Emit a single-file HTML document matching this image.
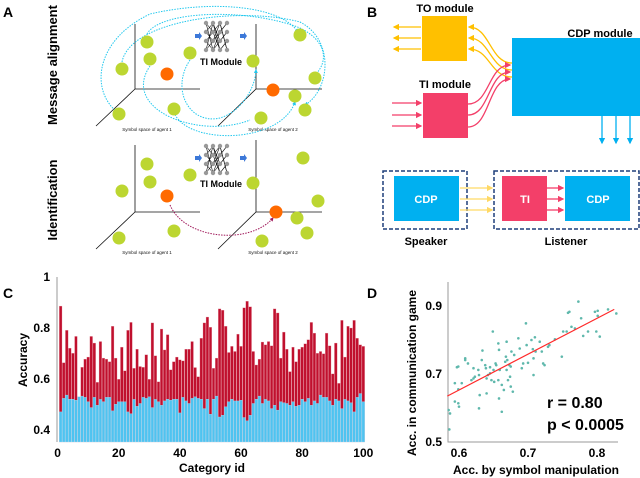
<!DOCTYPE html>
<html><head><meta charset="utf-8"><style>
body{margin:0;background:#fff;width:640px;height:478px;overflow:hidden}
svg{display:block;font-family:"Liberation Sans",Arial,sans-serif;font-weight:bold}
</style></head><body>
<svg id="fig" width="640" height="478" viewBox="0 0 640 478">
<defs>
<marker id="ay" markerWidth="5" markerHeight="5" refX="4" refY="2.5" orient="auto"><path d="M0,0L5,2.5L0,5z" fill="#ffc000"/></marker>
<marker id="ap" markerWidth="5" markerHeight="5" refX="4" refY="2.5" orient="auto"><path d="M0,0L5,2.5L0,5z" fill="#f33f69"/></marker>
<marker id="ab" markerWidth="5" markerHeight="5" refX="4" refY="2.5" orient="auto"><path d="M0,0L5,2.5L0,5z" fill="#00b0f0"/></marker>
<marker id="al" markerWidth="5" markerHeight="5" refX="4" refY="2.5" orient="auto"><path d="M0,0L5,2.5L0,5z" fill="#ffd966"/></marker>
<marker id="ac" markerWidth="4" markerHeight="4" refX="3" refY="2" orient="auto"><path d="M0,0L4,2L0,4z" fill="#22c8ee"/></marker>
<marker id="am" markerWidth="4" markerHeight="4" refX="3" refY="2" orient="auto"><path d="M0,0L4,2L0,4z" fill="#a0185a"/></marker>
</defs>

<!-- Panel A -->
<g>
<text x="3" y="17" font-size="14">A</text>
<text transform="translate(57,65) rotate(-90)" text-anchor="middle" font-size="13">Message alignment</text>
<text transform="translate(57,200) rotate(-90)" text-anchor="middle" font-size="13">Identification</text>
<g stroke="#111" stroke-width="0.8" fill="none">
<path d="M135,24V89H200M135,89L96,126"/>
<path d="M256,24V89H322M256,89L218,126"/>
<path d="M135,145V212H200M135,212L96,249"/>
<path d="M256,140V212H322M256,212L218,249"/>
</g>
<g font-size="4.5" font-weight="normal" text-anchor="middle" fill="#111">
<text x="147" y="131">Symbol space of agent 1</text>
<text x="273" y="131">Symbol space of agent 2</text>
<text x="147" y="254">Symbol space of agent 1</text>
<text x="273" y="254">Symbol space of agent 2</text>
</g>
<g fill="none" stroke="#22c8ee" stroke-width="1" stroke-dasharray="1.5,1.2">
<path d="M117,112C90,90 95,40 150,14C210,0 280,5 298,32" marker-end="url(#ac)"/>
<path d="M147,34C160,10 250,8 300,28C325,40 330,60 315,75" marker-end="url(#ac)"/>
<path d="M122,62C130,20 240,6 300,22C335,40 330,90 305,105" marker-end="url(#ac)"/>
<path d="M190,60C170,90 190,125 220,118C240,112 255,90 256,70" marker-end="url(#ac)"/>
<path d="M174,112C185,145 280,145 295,102" marker-end="url(#ac)"/>
<path d="M150,66C120,110 200,140 250,120"/>
</g>
<path d="M170,205C185,240 250,245 273,218" fill="none" stroke="#a0185a" stroke-width="1" stroke-dasharray="1.5,1.2" marker-end="url(#am)"/>
<g fill="#bcd631">
<circle cx="147" cy="42" r="6.5"/><circle cx="150" cy="59" r="6.5"/><circle cx="122" cy="69" r="6.5"/><circle cx="190" cy="53" r="6.5"/><circle cx="119" cy="114" r="6.5"/><circle cx="174" cy="109" r="6.5"/>
<circle cx="253" cy="61" r="6.5"/><circle cx="300" cy="35" r="6.5"/><circle cx="315" cy="78" r="6.5"/><circle cx="295" cy="96" r="6.5"/><circle cx="305" cy="110" r="6.5"/><circle cx="261" cy="118" r="6.5"/>
<circle cx="147" cy="164" r="6.5"/><circle cx="150" cy="182" r="6.5"/><circle cx="122" cy="191" r="6.5"/><circle cx="190" cy="175" r="6.5"/><circle cx="119" cy="238" r="6.5"/><circle cx="174" cy="231" r="6.5"/>
<circle cx="253" cy="183" r="6.5"/><circle cx="303" cy="158" r="6.5"/><circle cx="318" cy="201" r="6.5"/><circle cx="297" cy="218" r="6.5"/><circle cx="307" cy="233" r="6.5"/><circle cx="262" cy="241" r="6.5"/>
</g>
<g fill="#ff6a00">
<circle cx="167" cy="74" r="6.5"/><circle cx="273" cy="90" r="6.5"/><circle cx="167" cy="196" r="6.5"/><circle cx="276" cy="212" r="6.5"/>
</g>
<g id="nets"></g>
<text x="221" y="65" text-anchor="middle" font-size="9">TI Module</text>
<text x="221" y="187" text-anchor="middle" font-size="9">TI Module</text>
</g>

<!-- Panel B -->
<g>
<text x="367" y="17" font-size="14">B</text>
<text x="445" y="12" text-anchor="middle" font-size="11">TO module</text>
<rect x="422" y="16" width="45" height="45" fill="#ffc000"/>
<text x="445" y="88" text-anchor="middle" font-size="11">TI module</text>
<rect x="423" y="93" width="45" height="45" fill="#f33f69"/>
<rect x="512" y="38" width="128" height="78" fill="#00b0f0"/>
<text x="600" y="37" text-anchor="middle" font-size="11">CDP module</text>
<g stroke="#ffc000" stroke-width="1.3" fill="none">
<path d="M421,27H394" marker-end="url(#ay)"/><path d="M421,38H394" marker-end="url(#ay)"/><path d="M421,49H394" marker-end="url(#ay)"/>
<path d="M512,63C490,63 490,27 469,27" marker-end="url(#ay)"/><path d="M512,70C490,70 490,38 469,38" marker-end="url(#ay)"/><path d="M512,77C490,77 490,49 469,49" marker-end="url(#ay)"/>
</g>
<g stroke="#f33f69" stroke-width="1.3" fill="none">
<path d="M392,103H421" marker-end="url(#ap)"/><path d="M392,115H421" marker-end="url(#ap)"/><path d="M392,126H421" marker-end="url(#ap)"/>
<path d="M468,104C490,104 488,65 510,65" marker-end="url(#ap)"/><path d="M468,115C490,115 488,72 510,72" marker-end="url(#ap)"/><path d="M468,127C490,127 488,79 510,79" marker-end="url(#ap)"/>
</g>
<g stroke="#00b0f0" stroke-width="1.3">
<path d="M602,116V143" marker-end="url(#ab)"/><path d="M616,116V143" marker-end="url(#ab)"/><path d="M630,116V143" marker-end="url(#ab)"/>
</g>
<rect x="383" y="171" width="84" height="58" fill="none" stroke="#1f3f7a" stroke-width="1.5" stroke-dasharray="4,2"/>
<rect x="494" y="171" width="145" height="58" fill="none" stroke="#1f3f7a" stroke-width="1.5" stroke-dasharray="4,2"/>
<rect x="394" y="176" width="65" height="45" fill="#00b0f0"/>
<rect x="502" y="176" width="45" height="45" fill="#f33f69"/>
<rect x="565" y="176" width="65" height="45" fill="#00b0f0"/>
<g fill="#fff" font-size="11" text-anchor="middle">
<text x="426" y="203">CDP</text><text x="525" y="203">TI</text><text x="598" y="203">CDP</text>
</g>
<g stroke="#ffd966" stroke-width="1.3"><path d="M460,188H492" marker-end="url(#al)"/><path d="M460,199H492" marker-end="url(#al)"/><path d="M460,210H492" marker-end="url(#al)"/></g>
<g stroke="#f33f69" stroke-width="1.3"><path d="M547,188H563" marker-end="url(#ap)"/><path d="M547,199H563" marker-end="url(#ap)"/><path d="M547,210H563" marker-end="url(#ap)"/></g>
<text x="426" y="245" text-anchor="middle" font-size="11">Speaker</text>
<text x="566" y="245" text-anchor="middle" font-size="11">Listener</text>
</g>

<!-- Panel C -->
<g id="panelC">
<text x="3" y="298" font-size="14">C</text>
<text transform="translate(27,360) rotate(-90)" text-anchor="middle" font-size="12">Accuracy</text>
<text x="212" y="472" text-anchor="middle" font-size="12">Category id</text>
</g>

<!-- Panel D -->
<g id="panelD">
<text x="367" y="298" font-size="14">D</text>
<text transform="translate(416,373) rotate(-90)" text-anchor="middle" font-size="12">Acc. in communication game</text>
<text x="536" y="474" text-anchor="middle" font-size="12">Acc. by symbol manipulation</text>
<text x="547" y="408" font-size="16">r = 0.80</text>
<text x="547" y="430" font-size="16">p &lt; 0.0005</text>
</g>
</svg>
<script>
var redValues=[0.886,0.664,0.791,0.721,0.701,0.767,0.53,0.646,0.678,0.686,0.767,0.741,0.587,0.747,0.682,0.678,0.668,0.807,0.682,0.599,0.725,0.632,0.791,0.822,0.642,0.717,0.649,0.646,0.695,0.599,0.82,0.691,0.589,0.796,0.714,0.774,0.636,0.668,0.686,0.675,0.671,0.717,0.717,0.747,0.645,0.609,0.76,0.82,0.843,0.803,0.642,0.682,0.875,0.87,0.807,0.704,0.728,0.708,0.776,0.728,0.879,0.905,0.883,0.708,0.655,0.678,0.745,0.734,0.747,0.73,0.875,0.859,0.682,0.784,0.717,0.629,0.725,0.668,0.717,0.725,0.738,0.754,0.822,0.78,0.701,0.708,0.699,0.78,0.73,0.62,0.741,0.583,0.83,0.686,0.807,0.8,0.83,0.76,0.734,0.728];
var blueValues=[0.471,0.524,0.537,0.521,0.521,0.517,0.530,0.533,0.528,0.511,0.488,0.528,0.497,0.520,0.511,0.528,0.528,0.475,0.501,0.511,0.511,0.511,0.471,0.464,0.520,0.493,0.504,0.528,0.524,0.530,0.488,0.520,0.511,0.497,0.514,0.521,0.517,0.521,0.521,0.467,0.528,0.514,0.504,0.524,0.530,0.524,0.521,0.484,0.521,0.462,0.521,0.533,0.451,0.458,0.491,0.511,0.521,0.514,0.514,0.517,0.449,0.436,0.458,0.504,0.521,0.533,0.504,0.520,0.514,0.484,0.497,0.478,0.511,0.507,0.504,0.497,0.511,0.493,0.497,0.521,0.511,0.524,0.497,0.514,0.504,0.537,0.528,0.528,0.514,0.497,0.521,0.514,0.484,0.520,0.514,0.507,0.471,0.528,0.543,0.511];
var cYTicks=[0.4,0.6,0.8,1];
var cXTicks=[0,20,40,60,80,100];
var dX=[0.585,0.587,0.586,0.594,0.594,0.597,0.599,0.599,0.600,0.599,0.609,0.609,0.604,0.613,0.618,0.621,0.623,0.621,0.628,0.629,0.633,0.634,0.630,0.629,0.638,0.639,0.640,0.640,0.642,0.645,0.645,0.647,0.650,0.651,0.653,0.654,0.649,0.657,0.658,0.658,0.657,0.662,0.659,0.667,0.668,0.669,0.669,0.670,0.671,0.674,0.673,0.675,0.675,0.676,0.678,0.662,0.665,0.680,0.686,0.688,0.691,0.693,0.697,0.698,0.700,0.705,0.707,0.708,0.708,0.710,0.711,0.717,0.720,0.722,0.724,0.729,0.731,0.739,0.749,0.751,0.756,0.758,0.760,0.763,0.768,0.773,0.777,0.780,0.787,0.797,0.799,0.801,0.801,0.804,0.816,0.828];
var dY=[0.594,0.584,0.537,0.673,0.619,0.720,0.722,0.614,0.604,0.655,0.746,0.741,0.673,0.731,0.682,0.687,0.692,0.717,0.712,0.697,0.741,0.769,0.638,0.599,0.726,0.717,0.687,0.643,0.697,0.702,0.720,0.682,0.712,0.677,0.731,0.726,0.825,0.790,0.771,0.628,0.682,0.668,0.712,0.736,0.751,0.795,0.712,0.741,0.682,0.692,0.726,0.722,0.663,0.766,0.648,0.589,0.653,0.756,0.805,0.775,0.717,0.731,0.849,0.785,0.733,0.800,0.773,0.746,0.697,0.808,0.766,0.795,0.766,0.731,0.726,0.780,0.785,0.802,0.751,0.825,0.825,0.880,0.883,0.839,0.834,0.913,0.864,0.812,0.825,0.883,0.825,0.886,0.871,0.810,0.890,0.878];
var dXTicks=[0.6,0.7,0.8];
var dYTicks=[0.5,0.7,0.9];
var fitLine=[[0.583,0.635],[0.825,0.890]];

var NS='http://www.w3.org/2000/svg';
function mk(p,t,a){var e=document.createElementNS(NS,t);for(var k in a)e.setAttribute(k,a[k]);p.appendChild(e);return e;}

// nets
var nets=document.getElementById('nets');
[[20,36],[143,158]].forEach(function(n){
  var g=mk(nets,'g',{});
  
  
  var cols=[206,213,220,227],rows=[n[0]+3,n[0]+12,n[0]+21,n[0]+30];
  for(var c=0;c<3;c++)for(var r=0;r<4;r++){mk(g,'line',{x1:cols[c],y1:rows[r],x2:cols[c+1],y2:rows[(r+1+c)%4],stroke:'#111','stroke-width':0.6});mk(g,'line',{x1:cols[c],y1:rows[r],x2:cols[c+1],y2:rows[(r+3)%4],stroke:'#111','stroke-width':0.6});}
  cols.forEach(function(x){rows.forEach(function(y){mk(g,'circle',{cx:x,cy:y,r:2.2,fill:'#999'});});});
  mk(g,'path',{d:'M195,'+(n[1]-2)+'h4v-2l3,4l-3,4v-2h-4z',fill:'#3c78d8'});
  mk(g,'path',{d:'M240,'+(n[1]-2)+'h4v-2l3,4l-3,4v-2h-4z',fill:'#3c78d8'});
});

// Panel C
var pc=document.getElementById('panelC');
function cx(i){return 57.6+3.057*i;}
function cy(v){return 430-(v-0.4)*255;}
var cBottom=442;
for(var i=0;i<redValues.length;i++){
  var b=mk(pc,'rect',{x:cx(i+1)-1.35,y:cy(redValues[i]),width:2.7,height:cBottom-cy(redValues[i]),fill:'#c0102e',stroke:'#e8a0ac','stroke-width':0.3});
  
  
}
for(var i=0;i<blueValues.length;i++){
  var b=mk(pc,'rect',{x:cx(i+1)-1.35,y:cy(blueValues[i]),width:2.7,height:cBottom-cy(blueValues[i]),fill:'#4fc3f0',stroke:'#b6e4f8','stroke-width':0.3});
  
  
}
var ax=mk(pc,'line',{x1:57,y1:277,x2:57,y2:cBottom,stroke:'#999','stroke-width':1});


cYTicks.forEach(function(t){
  var tx=mk(pc,'text',{x:50,y:cy(t)+4,'text-anchor':'end','font-size':12});
  tx.textContent=(t===1?'1':t.toFixed(1));
  
  
});
cXTicks.forEach(function(t){
  var tx=mk(pc,'text',{x:cx(t),y:457,'text-anchor':'middle','font-size':12});
  tx.textContent=t;
  
  
});

// Panel D
var pd=document.getElementById('panelD');
function dx(v){return 459+(v-0.6)*690;}
function dy(v){return 442-(v-0.5)*340;}
var axd=mk(pd,'path',{d:'M448,282V442H618',fill:'none',stroke:'#999','stroke-width':1});


for(var i=0;i<dX.length;i++){
  var p=mk(pd,'circle',{cx:dx(dX[i]),cy:dy(dY[i]),r:1.3,fill:'#5fb8ac'});
  
  
}
var fl=mk(pd,'line',{x1:dx(fitLine[0][0]),y1:dy(fitLine[0][1]),x2:dx(fitLine[1][0]),y2:dy(fitLine[1][1]),stroke:'#ff2a2a','stroke-width':1.2});


dXTicks.forEach(function(t){
  var tx=mk(pd,'text',{x:dx(t),y:457,'text-anchor':'middle','font-size':12});
  tx.textContent=t.toFixed(1);
  
  
});
dYTicks.forEach(function(t){
  var tx=mk(pd,'text',{x:442,y:dy(t)+4,'text-anchor':'end','font-size':12});
  tx.textContent=t.toFixed(1);
  
  
});
</script>
</body></html>
